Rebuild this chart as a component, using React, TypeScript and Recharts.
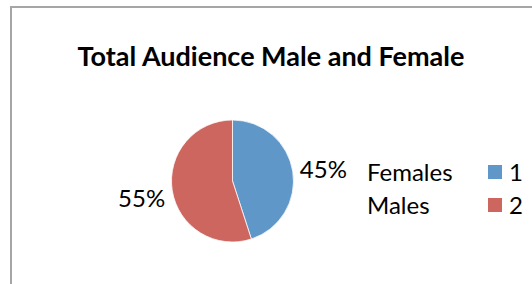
import { PieChart, Pie, Cell, Legend } from 'recharts';

const categories = ['Females', 'Males'];
const seriesNames = ['1', '2'];
const shares = [45, 55];
const colors = ['#5F97C9', '#CD665F'];

const data = categories.map((name, i) => ({ name, value: shares[i] }));

const RADIAN = Math.PI / 180;
const FONT = 'Lato, "Open Sans", sans-serif';

function renderLabel(props: any) {
  const { cx, cy, midAngle, outerRadius, value } = props;
  const r = outerRadius + 31;
  const x = cx + r * Math.cos(-midAngle * RADIAN);
  const y = cy + r * Math.sin(-midAngle * RADIAN) + 2;
  return (
    <text x={x} y={y} textAnchor="middle" dominantBaseline="central" fill="#000" fontSize={24} fontFamily={FONT}>
      {value}%
    </text>
  );
}

function LegendBox({ payload }: any) {
  const items = payload && payload.length ? payload : categories.map((c, i) => ({ value: c, color: colors[i] }));
  return (
    <div style={{ fontFamily: FONT, fontSize: 24, color: '#000' }}>
      {items.map((item: any, i: number) => (
        <div key={i} style={{ display: 'flex', alignItems: 'center', height: 33 }}>
          <span style={{ width: 121 }}>{item.value}</span>
          <span style={{ width: 14, height: 14, background: item.color, marginRight: 7 }} />
          <span>{seriesNames[i]}</span>
        </div>
      ))}
    </div>
  );
}

export default function App() {
  return (
    <div style={{ position: 'absolute', left: 0, top: 0, width: 532, height: 284, background: '#fff', overflow: 'hidden' }}>
      <div style={{ position: 'absolute', left: 10, top: 6, width: 560, height: 320, borderLeft: '2px solid #a6a6a6', borderTop: '2px solid #a6a6a6' }} />
      <div style={{ position: 'absolute', left: 0, top: 0 }}>
        <PieChart width={532} height={284} margin={{ top: 0, right: 0, bottom: 0, left: 0 }}>
          <text x={271} y={66} textAnchor="middle" fontSize={27} fontWeight="bold" fontFamily={FONT} fill="#000">
            Total Audience Male and Female
          </text>
          <Pie
            data={data}
            dataKey="value"
            nameKey="name"
            cx={232.5}
            cy={181}
            outerRadius={61}
            startAngle={90}
            endAngle={-270}
            stroke="#fff"
            strokeWidth={0.75}
            label={renderLabel}
            labelLine={false}
            isAnimationActive={false}
          >
            {data.map((d, i) => (
              <Cell key={d.name} fill={colors[i]} />
            ))}
          </Pie>
          <Legend
            layout="vertical"
            align="right"
            verticalAlign="top"
            content={<LegendBox />}
            wrapperStyle={{ left: 367, top: 155, right: 'auto', width: 'auto' }}
          />
        </PieChart>
      </div>
    </div>
  );
}
